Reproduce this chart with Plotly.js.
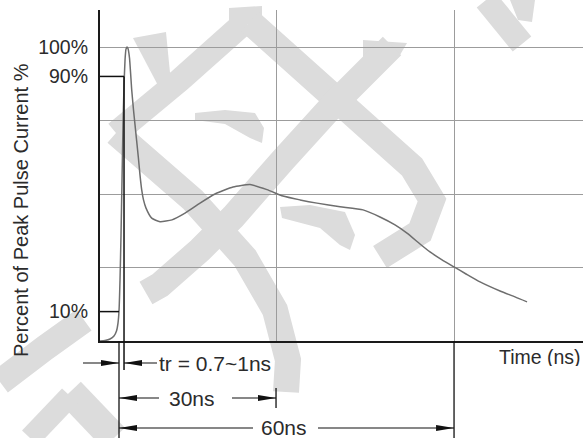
<!DOCTYPE html>
<html><head><meta charset="utf-8">
<script src="https://cdn.plot.ly/plotly-3.0.1.min.js"></script>
<style>html,body{margin:0;padding:0;background:#fff}#chart{width:583px;height:438px}</style>
</head><body><div id="chart"></div>
<script>
// ESD current waveform: time in ns (0 = 10% point), current in % of peak
const timeNs = [-3.41,-2.51,-1.61,-0.90,-0.45,-0.18,0,0.18,0.36,0.54,0.72,0.90,1.08,1.25,1.43,1.61,1.88,
  2.28,2.60,2.87,3.46,3.76,4.07,4.39,4.84,5.86,7.35,9.50,11.83,14.52,17.20,20.43,23.48,26.52,29.39,32.44,
  35.48,39.61,43.73,46.77,49.46,51.61,53.94,55.73,57.89,60.04,62.19,64.70,68.28,70.97,73.12];
const currentPct = [0,0.17,0.68,1.7,3.4,6.1,10.2,20.7,36,54.8,73.5,87,95.6,99.3,100,99.5,96.3,
  85.4,78.6,73.5,62.6,56.5,51.4,48,45.2,41.8,40.6,41.2,43.5,46.9,50.0,52.4,53.2,51.5,49.3,48.0,
  46.9,45.7,44.6,42.2,39.5,36.7,33.0,30.3,27.6,25.2,22.8,20.1,17.0,15.0,13.3];

const yGridVals = [25, 50, 75, 100];
const yLabelVals = [10, 90, 100];
const yLabelText = ['10%', '90%', '100%'];
const xGridVals = [28.14, 60.04];          // "30ns" and "60ns" marks (drawing not to scale)
const markRiseStart = 0, markRiseEnd = 0.9, mark30 = 28.14, mark60 = 60.04;
const level10 = 10, level90 = 90;
const riseLabel = 'tr = 0.7~1ns', label30 = '30ns', label60 = '60ns';
const yTitle = 'Percent of Peak Pulse Current %', xTitle = 'Time (ns)';

const W = 583, H = 438, ML = 100, MR = 0, MT = 10, MB = 97;
const PW = W - ML - MR, PH = H - MT - MB;
const xRange = [-3.405, 83.15], yRange = [0, 112.6];
const FONT = 'Liberation Sans, Arial, sans-serif';
const TXT = '#2b2b2b';

// coordinate helpers (pixel <-> paper), for annotation / decoration placement
const xpx = v => ML + (v - xRange[0]) / (xRange[1] - xRange[0]) * PW;
const ypx = v => MT + PH - (v - yRange[0]) / (yRange[1] - yRange[0]) * PH;
const PX = p => (p - ML) / PW;
const PY = p => (MT + PH - p) / PH;

const shapes = [];
const annotations = [];

// --- watermark (light grey strokes) ---
const WMC = '#dcdcdc';
function wmLine(pts, w) {
  const d = pts.map((p, i) => (i ? 'L' : 'M') + PX(p[0]).toFixed(4) + ',' + PY(p[1]).toFixed(4)).join(' ');
  shapes.push({type: 'path', xref: 'paper', yref: 'paper', path: d, line: {color: WMC, width: w}, layer: 'below'});
}
function wmPoly(pts) {
  const d = pts.map((p, i) => (i ? 'L' : 'M') + PX(p[0]).toFixed(4) + ',' + PY(p[1]).toFixed(4)).join(' ') + ' Z';
  shapes.push({type: 'path', xref: 'paper', yref: 'paper', path: d, fillcolor: WMC, line: {width: 0}, layer: 'below'});
}
wmPoly([[133,38],[166,32],[172,93],[162,93]]);
wmPoly([[229,8],[262,6],[262,24],[229,26]]);
wmLine([[245,22],[180,80],[116,133]], 24);
wmLine([[250,22],[345,107],[412,167],[432,200],[420,232],[380,257]], 26);
wmLine([[116,133],[193,200],[245,258],[275,310],[288,360],[286,392]], 26);
wmPoly([[363,40],[407,43],[400,55],[372,70],[363,72]]);
wmLine([[392,46],[333,105],[283,160],[233,217],[200,250],[160,285],[146,293]], 26);
wmPoly([[195,113],[225,110],[255,113],[264,128],[262,143],[250,138],[225,124],[195,120]]);
wmPoly([[280,207],[310,205],[345,212],[355,235],[350,250],[340,245],[320,228],[282,218]]);
wmLine([[486,0],[522,44]], 24);
wmPoly([[510,0],[535,0],[532,22],[518,20]]);
wmLine([[0,382],[45,348],[84,320]], 26);
wmLine([[70,392],[114,438]], 30);
wmLine([[70,396],[30,438]], 22);

// --- dimension lines ---
const DIM = '#111';
function vline(xv, y0p, y1p, w) {
  shapes.push({type: 'line', xref: 'paper', yref: 'paper', x0: PX(xpx(xv)), x1: PX(xpx(xv)),
    y0: PY(y0p), y1: PY(y1p), line: {color: DIM, width: w || 1.3}});
}
function hline(x0p, x1p, yp, w) {
  shapes.push({type: 'line', xref: 'paper', yref: 'paper', x0: PX(x0p), x1: PX(x1p),
    y0: PY(yp), y1: PY(yp), line: {color: DIM, width: w || 1.3}});
}
function arrow(tipP, tailP, yp) {
  hline(tailP, tipP, yp, 1.1);
  const dir = tipP > tailP ? 1 : -1, L = 18, hw = 3;
  const d = 'M' + PX(tipP) + ',' + PY(yp) + ' L' + PX(tipP - dir * L) + ',' + PY(yp - hw) +
            ' L' + PX(tipP - dir * L) + ',' + PY(yp + hw) + ' Z';
  shapes.push({type: 'path', xref: 'paper', yref: 'paper', path: d, fillcolor: DIM, line: {width: 0}});
}
const xA = xpx(markRiseStart), xB = xpx(markRiseEnd), x30 = xpx(mark30), x60 = xpx(mark60);
const y0 = ypx(0);
hline(ML, xB, ypx(level90), 1.5);
hline(ML, xA, ypx(level10), 1.5);
vline(markRiseEnd, ypx(level90), 370, 1.5);
vline(markRiseStart, y0, 438, 1.3);
vline(mark30, 388, 408, 1.3);
vline(mark60, y0, 438, 1.3);
const yTr = 363, y30 = 398, y60 = 428;
arrow(xA, 83, yTr);
arrow(xB, 157, yTr);
arrow(xA, 159, y30);
arrow(x30, 232, y30);
arrow(xA, 253, y60);
arrow(x60, 318, y60);

const af = {family: FONT, size: 21, color: TXT};
function label(text, xp, yp, anchor, font, extra) {
  annotations.push(Object.assign({xref: 'paper', yref: 'paper', x: PX(xp), y: PY(yp), xanchor: anchor, yanchor: 'middle',
    text: text, showarrow: false, font: font, height: 18, valign: 'middle', borderpad: 0}, extra || {}));
}
label(riseLabel, 158, yTr, 'left', af);
label(label30, 192, y30, 'center', af);
label(label60, 284, y60 - 1, 'center', af);
label(xTitle, 582, 357, 'right', {family: FONT, size: 19.5, color: TXT});
annotations.push({xref: 'paper', yref: 'paper', x: PX(21), y: PY(210), xanchor: 'center', yanchor: 'middle', textangle: -90, text: yTitle, showarrow: false,
  font: {family: FONT, size: 20, color: TXT}});

const trace = {
  x: timeNs, y: currentPct, type: 'scatter', mode: 'lines',
  line: {color: '#6e6e6e', width: 1.5, shape: 'spline', smoothing: 0.5},
  hoverinfo: 'skip', showlegend: false
};

const layout = {
  width: W, height: H,
  margin: {l: ML, r: MR, t: MT, b: MB, pad: 0},
  paper_bgcolor: '#fff', plot_bgcolor: 'rgba(0,0,0,0)',
  showlegend: false,
  font: {family: FONT, size: 19.5, color: TXT},
  xaxis: {range: xRange, tickvals: xGridVals, showticklabels: false, ticks: '',
    showgrid: true, gridcolor: '#9c9c9c', gridwidth: 1, zeroline: false,
    showline: true, linecolor: '#1a1a1a', linewidth: 2, fixedrange: true},
  yaxis: {range: yRange, tickvals: yGridVals, showticklabels: false, ticks: '',
    showgrid: true, gridcolor: '#9c9c9c', gridwidth: 1, zeroline: false,
    showline: true, linecolor: '#1a1a1a', linewidth: 2, fixedrange: true},
  yaxis2: {range: yRange, overlaying: 'y', side: 'left', anchor: 'x', tickvals: yLabelVals, ticktext: yLabelText,
    ticks: '', showgrid: false, zeroline: false, showline: false, ticklabelstandoff: 11,
    tickfont: {family: FONT, size: 19.5, color: TXT}, fixedrange: true},
  shapes: shapes,
  annotations: annotations
};

const labelTrace = {x: [xRange[0]], y: [0], yaxis: 'y2', type: 'scatter', mode: 'markers',
  marker: {opacity: 0}, hoverinfo: 'skip', showlegend: false};

Plotly.newPlot('chart', [trace, labelTrace], layout, {staticPlot: true, displayModeBar: false});
</script>
</body></html>
